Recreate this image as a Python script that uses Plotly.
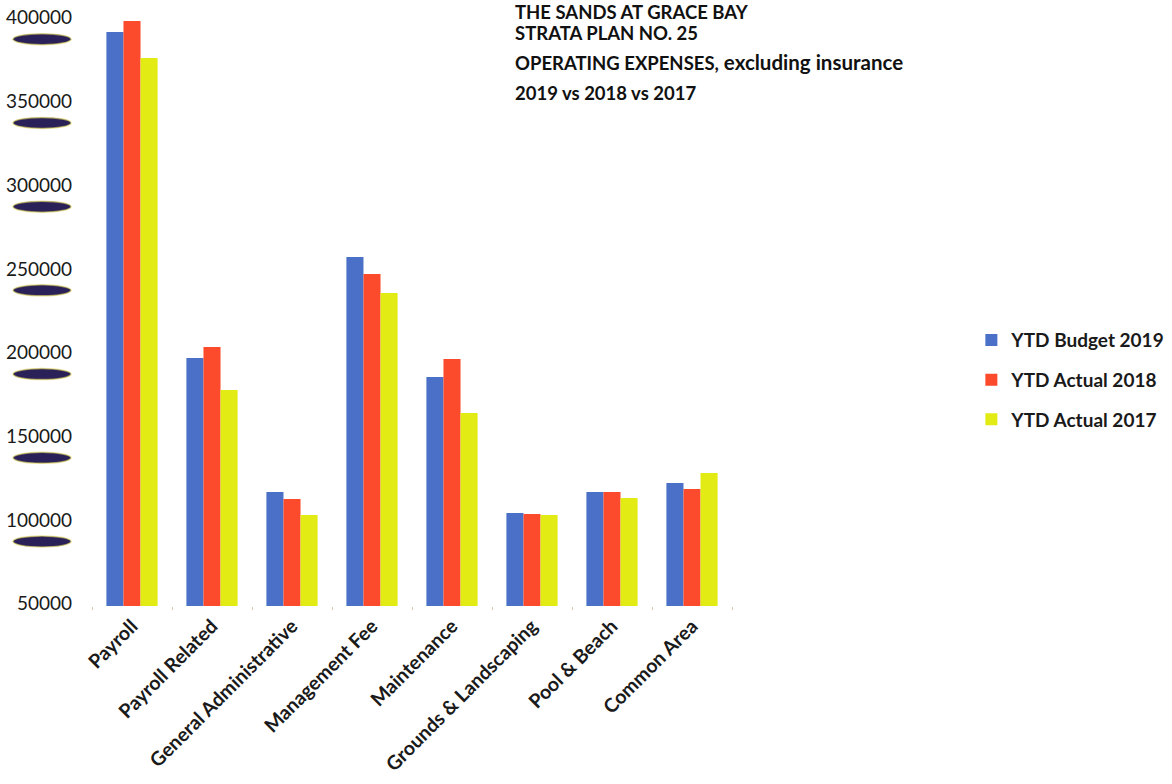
import plotly.graph_objects as go

categories = ["Payroll", "Payroll Related", "General Administrative", "Management Fee",
              "Maintenance", "Grounds & Landscaping", "Pool & Beach", "Common Area"]
budget_2019 = [391500, 196800, 116700, 257100, 185400, 104200, 116700, 122100]
actual_2018 = [398100, 203300, 112500, 246900, 196200, 103600, 116700, 118500]
actual_2017 = [376000, 177600, 103000, 235600, 163900, 103000, 113100, 128100]
series_names = ["YTD Budget 2019", "YTD Actual 2018", "YTD Actual 2017"]
tick_values = [50000, 100000, 150000, 200000, 250000, 300000, 350000, 400000]
title_lines = ["THE SANDS AT GRACE BAY", "STRATA PLAN NO. 25",
               "OPERATING EXPENSES, excluding insurance", "2019 vs 2018 vs 2017"]

colors = ["#4a70c8", "#fb4a2c", "#e2ec14"]
FONT = "Lato"

fig = go.Figure()
for i, (name, vals) in enumerate(zip(series_names, [budget_2019, actual_2018, actual_2017])):
    fig.add_trace(go.Bar(
        x=categories, y=vals, name=name, legendgroup=name,
        marker=dict(color=colors[i], line=dict(width=0)),
    ))

fig.update_layout(
    width=1172, height=784,
    margin=dict(l=92, r=440, t=10, b=178, autoexpand=False),
    paper_bgcolor="white", plot_bgcolor="white",
    barmode="group", bargap=0.36, bargroupgap=0,
    font=dict(family=FONT, color="#1a1a1a"),
    legend=dict(
        x=1.374, y=0.379, xanchor="left", yanchor="middle",
        font=dict(family=FONT, size=19, color="#1a1a1a", weight="bold"),
        tracegroupgap=12, itemwidth=30,
    ),
    showlegend=True,
)
fig.update_xaxes(
    showgrid=False, showline=False, zeroline=False, automargin=False,
    tickangle=-45, tickfont=dict(family=FONT, size=19.5, color="#1a1a1a", weight="bold"),
    ticks="outside", tickson="boundaries", ticklen=3, tickcolor="#d8c8a8",
    ticklabelstandoff=4,
)
fig.update_yaxes(
    range=[48630, 404600], showgrid=False, showline=False, zeroline=False, automargin=False,
    tickvals=tick_values, ticktext=[str(v) for v in tick_values],
    tickfont=dict(family=FONT, size=19, color="#1a1a1a"),
    ticklabelstandoff=19, ticklabeloverflow="allow",
)

# dark smudges under each y tick label
for v in tick_values:
    fig.add_shape(type="circle", xref="paper", yref="y",
                  xsizemode="pixel", ysizemode="pixel", xanchor=0, yanchor=v,
                  x0=-79, x1=-21, y0=-27, y1=-16,
                  fillcolor="#2a2158", line=dict(width=1.5, color="rgba(220,210,90,0.6)"),
                  layer="above")

title_y = [0.996, 0.961, 0.9128, 0.8607]
for line, yy in zip(title_lines, title_y):
    if "," in line:
        a, b = line.split(",", 1)
        txt = "<b>" + a + ",</b><b><span style='font-size:20.5px'>" + b + "</span></b>"
    else:
        txt = "<b>" + line + "</b>"
    fig.add_annotation(text=txt, xref="paper", yref="paper", x=0.658, y=yy,
                       xanchor="left", yanchor="middle", showarrow=False,
                       font=dict(family=FONT, size=18.5, color="#111111"))

fig.write_html("out.html", config={"displayModeBar": False},
               post_script="document.body.style.margin='0';")
